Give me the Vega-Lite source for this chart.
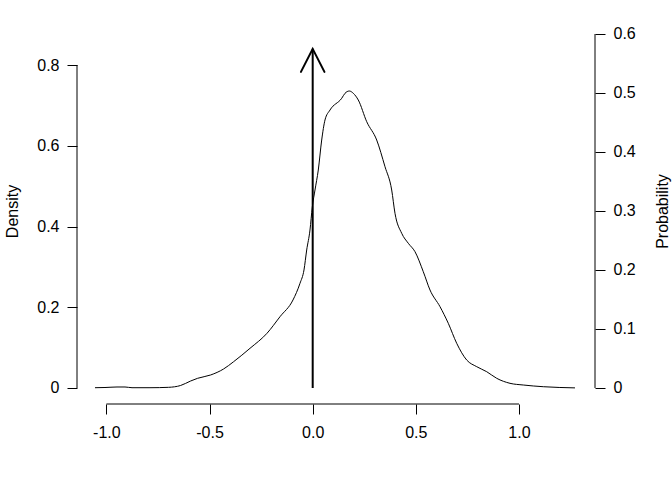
{
  "$schema": "https://vega.github.io/schema/vega-lite/v6.json",
  "width": 518,
  "height": 387,
  "autosize": {"type": "none"},
  "padding": {"left": 77, "top": 17, "right": 77, "bottom": 76},
  "background": "white",
  "config": {
    "view": {"stroke": null},
    "axis": {
      "domain": false,
      "grid": false,
      "labelFont": "Liberation Sans",
      "labelFontSize": 16,
      "labelColor": "black",
      "tickColor": "black",
      "tickSize": 10,
      "tickWidth": 1,
      "labelPadding": 8,
      "titleFont": "Liberation Sans",
      "titleFontSize": 16,
      "titleColor": "black",
      "titleFontWeight": "normal"
    }
  },
  "datasets": {
    "curve": [
      {"x": -1.0553, "y": 0.0007},
      {"x": -1.0068, "y": 0.0012},
      {"x": -0.9486, "y": 0.0025},
      {"x": -0.9098, "y": 0.0025},
      {"x": -0.8759, "y": 0.0007},
      {"x": -0.7887, "y": 0.0007},
      {"x": -0.6985, "y": 0.0017},
      {"x": -0.6403, "y": 0.0062},
      {"x": -0.5918, "y": 0.0173},
      {"x": -0.5579, "y": 0.024},
      {"x": -0.4949, "y": 0.0322},
      {"x": -0.4319, "y": 0.0471},
      {"x": -0.3834, "y": 0.0651},
      {"x": -0.3039, "y": 0.0983},
      {"x": -0.2215, "y": 0.1355},
      {"x": -0.1585, "y": 0.1766},
      {"x": -0.0955, "y": 0.218},
      {"x": -0.0616, "y": 0.2593},
      {"x": -0.0422, "y": 0.2923},
      {"x": -0.0291, "y": 0.3418},
      {"x": -0.0131, "y": 0.3913},
      {"x": -0.0019, "y": 0.4483},
      {"x": 0.0111, "y": 0.4904},
      {"x": 0.0271, "y": 0.5399},
      {"x": 0.0436, "y": 0.6142},
      {"x": 0.0596, "y": 0.6638},
      {"x": 0.0839, "y": 0.6885},
      {"x": 0.1406, "y": 0.7175},
      {"x": 0.1566, "y": 0.7299},
      {"x": 0.1774, "y": 0.7356},
      {"x": 0.1968, "y": 0.7299},
      {"x": 0.221, "y": 0.7133},
      {"x": 0.2618, "y": 0.6596},
      {"x": 0.3102, "y": 0.6142},
      {"x": 0.3505, "y": 0.5481},
      {"x": 0.3829, "y": 0.4904},
      {"x": 0.3989, "y": 0.4327},
      {"x": 0.4314, "y": 0.3832},
      {"x": 0.4634, "y": 0.3584},
      {"x": 0.4959, "y": 0.3376},
      {"x": 0.5361, "y": 0.288},
      {"x": 0.5686, "y": 0.2427},
      {"x": 0.6171, "y": 0.2014},
      {"x": 0.6573, "y": 0.1602},
      {"x": 0.698, "y": 0.1107},
      {"x": 0.7465, "y": 0.0693},
      {"x": 0.795, "y": 0.0528},
      {"x": 0.8434, "y": 0.0404},
      {"x": 0.8919, "y": 0.024},
      {"x": 0.9564, "y": 0.0116},
      {"x": 1.0208, "y": 0.0074},
      {"x": 1.1178, "y": 0.0032},
      {"x": 1.2714, "y": 0.0003}
    ],
    "arrow": [{"x": 0, "y": 0, "x2": 0, "y2": 0.84}],
    "head": [
      {"x": -0.057, "y": 0.783, "o": 1},
      {"x": 0, "y": 0.84, "o": 2},
      {"x": 0.057, "y": 0.783, "o": 3}
    ],
    "leftaxis": [{"x": -1.1425, "y": 0, "y2": 0.8}],
    "bottomaxis": [{"x": -1, "x2": 1, "y": -0.03963}],
    "rightaxis": [{"x": 1.3684, "y": 0, "y2": 0.6}]
  },
  "layer": [
    {
      "layer": [
        {
          "data": {"name": "curve"},
          "mark": {"type": "line", "color": "black", "strokeWidth": 1, "interpolate": "monotone"},
          "encoding": {
            "x": {
              "field": "x", "type": "quantitative",
              "scale": {"domain": [-1.1425, 1.3684], "nice": false, "zero": false},
              "axis": {"values": [-1, -0.5, 0, 0.5, 1], "labelExpr": "replace(format(datum.value, '.1f'), '−', '-')", "title": null, "labelPadding": 10}
            },
            "y": {
              "field": "y", "type": "quantitative",
              "scale": {"domain": [-0.03963, 0.91889], "nice": false, "zero": false},
              "title": "Density",
              "axis": {
                "orient": "left",
                "values": [0, 0.2, 0.4, 0.6, 0.8],
                "labelExpr": "format(datum.value, '~g')",
                "title": "Density",
                "titleAngle": 270,
                "titleX": -65,
                "titleY": 194,
                "titleAlign": "center",
                "titleBaseline": "middle"
              }
            }
          }
        },
        {
          "data": {"name": "arrow"},
          "mark": {"type": "rule", "color": "black", "strokeWidth": 2},
          "encoding": {
            "x": {"field": "x", "type": "quantitative", "title": null},
            "x2": {"field": "x2"},
            "y": {"field": "y", "type": "quantitative", "title": "Density"},
            "y2": {"field": "y2"}
          }
        },
        {
          "data": {"name": "head"},
          "mark": {"type": "line", "color": "black", "strokeWidth": 2, "strokeCap": "round"},
          "encoding": {
            "x": {"field": "x", "type": "quantitative", "title": null},
            "y": {"field": "y", "type": "quantitative", "title": "Density"},
            "order": {"field": "o"}
          }
        },
        {
          "data": {"name": "leftaxis"},
          "mark": {"type": "rule", "color": "black", "strokeWidth": 1},
          "encoding": {
            "x": {"field": "x", "type": "quantitative", "title": null},
            "y": {"field": "y", "type": "quantitative", "title": "Density"},
            "y2": {"field": "y2"}
          }
        },
        {
          "data": {"name": "bottomaxis"},
          "mark": {"type": "rule", "color": "black", "strokeWidth": 1},
          "encoding": {
            "x": {"field": "x", "type": "quantitative", "title": null},
            "x2": {"field": "x2"},
            "y": {"field": "y", "type": "quantitative", "title": "Density"}
          }
        }
      ]
    },
    {
      "layer": [
        {
          "data": {"name": "rightaxis"},
          "mark": {"type": "rule", "color": "black", "strokeWidth": 1},
          "encoding": {
            "x": {"field": "x", "type": "quantitative", "title": null},
            "y": {
              "field": "y", "type": "quantitative",
              "scale": {"domain": [-0.02712, 0.62881], "nice": false, "zero": false},
              "title": "Probability",
              "axis": {
                "orient": "right",
                "values": [0, 0.1, 0.2, 0.3, 0.4, 0.5, 0.6],
                "labelExpr": "format(datum.value, '~g')",
                "title": "Probability",
                "titleAngle": 270,
                "titleX": 67,
                "titleY": 194,
                "titleAlign": "center",
                "titleBaseline": "middle"
              }
            },
            "y2": {"field": "y2"}
          }
        }
      ]
    }
  ],
  "resolve": {"scale": {"y": "independent"}}
}
